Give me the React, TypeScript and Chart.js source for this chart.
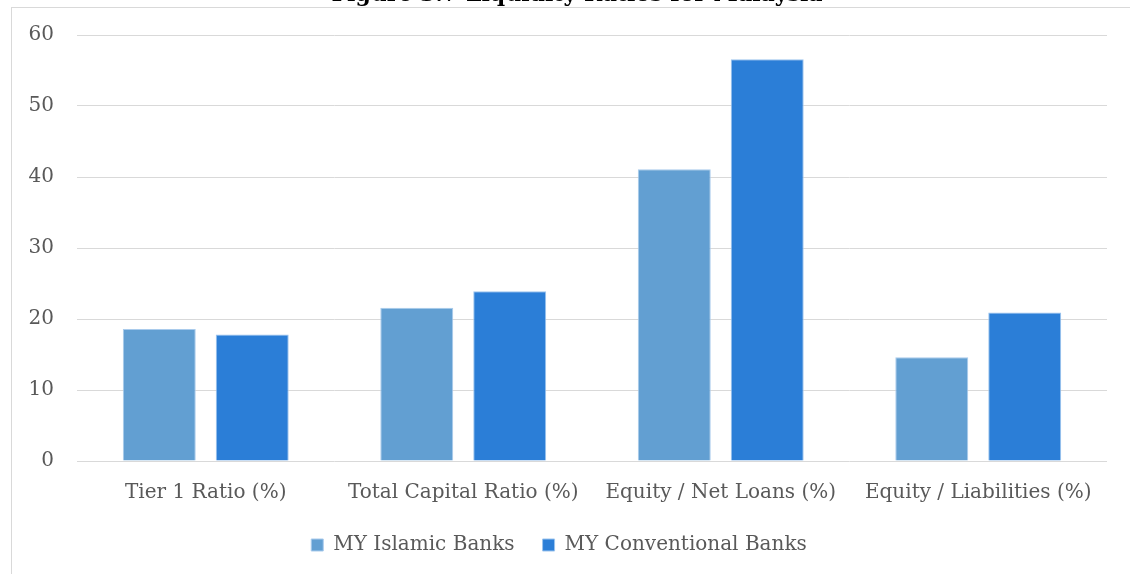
import React, { useEffect, useRef } from "react";
import { Chart, registerables } from "chart.js";

Chart.register(...registerables);

const categories = [
  "Tier 1 Ratio (%)",
  "Total Capital Ratio (%)",
  "Equity / Net Loans (%)",
  "Equity / Liabilities (%)",
];
const islamicValues = [18.6, 21.6, 41.1, 14.6];
const conventionalValues = [17.8, 23.9, 56.6, 20.9];
const seriesNames = ["MY Islamic Banks", "MY Conventional Banks"];
const titleText = "Figure 3.7 Liquidity Ratios for Malaysia";

const FONT = "'DejaVu Serif', serif";

const framePlugin = {
  id: "frame",
  beforeDraw(chart: any) {
    const ctx = chart.ctx;
    ctx.save();
    ctx.fillStyle = "#ffffff";
    ctx.fillRect(0, 0, chart.width, chart.height);
    ctx.strokeStyle = "#d9d9d9";
    ctx.lineWidth = 1;
    ctx.strokeRect(11.5, 7.5, chart.width + 20, chart.height + 20);
    ctx.fillStyle = "#000000";
    ctx.font = "bold 22px " + FONT;
    ctx.textAlign = "center";
    ctx.textBaseline = "alphabetic";
    ctx.fillText(titleText, 577, 1);
    ctx.restore();
  },
};

export default function App() {
  const ref = useRef<HTMLCanvasElement>(null);
  useEffect(() => {
    document.body.style.margin = "0";
    const chart = new Chart(ref.current as HTMLCanvasElement, {
      type: "bar",
      data: {
        labels: categories,
        datasets: [
          {
            label: seriesNames[0],
            data: islamicValues,
            backgroundColor: "#629fd2",
            borderColor: "#a9cbec",
            borderWidth: 1,
            categoryPercentage: 0.722,
            barPercentage: 0.785,
          },
          {
            label: seriesNames[1],
            data: conventionalValues,
            backgroundColor: "#2b7ed7",
            borderColor: "#9cc4ee",
            borderWidth: 1,
            categoryPercentage: 0.722,
            barPercentage: 0.785,
          },
        ],
      },
      options: {
        animation: false,
        responsive: false,
        maintainAspectRatio: false,
        layout: { padding: { left: 11, right: 23, top: 34, bottom: 9 } },
        plugins: {
          title: { display: false },
          tooltip: { enabled: false },
          legend: {
            position: "bottom",
            labels: {
              boxWidth: 12,
              boxHeight: 12,
              padding: 28,
              color: "#595959",
              font: { family: FONT, size: 20 },
            },
          },
        },
        scales: {
          x: {
            afterFit(scale: any) {
              scale.height = 46;
            },
            grid: { display: false, drawTicks: false },
            border: { display: false },
            ticks: {
              color: "#595959",
              font: { family: FONT, size: 20 },
              padding: 20,
              maxRotation: 0,
            },
          },
          y: {
            min: 0,
            max: 60,
            afterFit(scale: any) {
              scale.width = 66;
            },
            grid: { color: "#d9d9d9", lineWidth: 1, drawTicks: false },
            border: { display: false },
            ticks: {
              stepSize: 10,
              color: "#595959",
              font: { family: FONT, size: 20 },
              padding: 23,
            },
          },
        },
      },
      plugins: [framePlugin],
    });
    return () => chart.destroy();
  }, []);
  return <canvas ref={ref} width={1130} height={574} style={{ display: "block" }} />;
}
